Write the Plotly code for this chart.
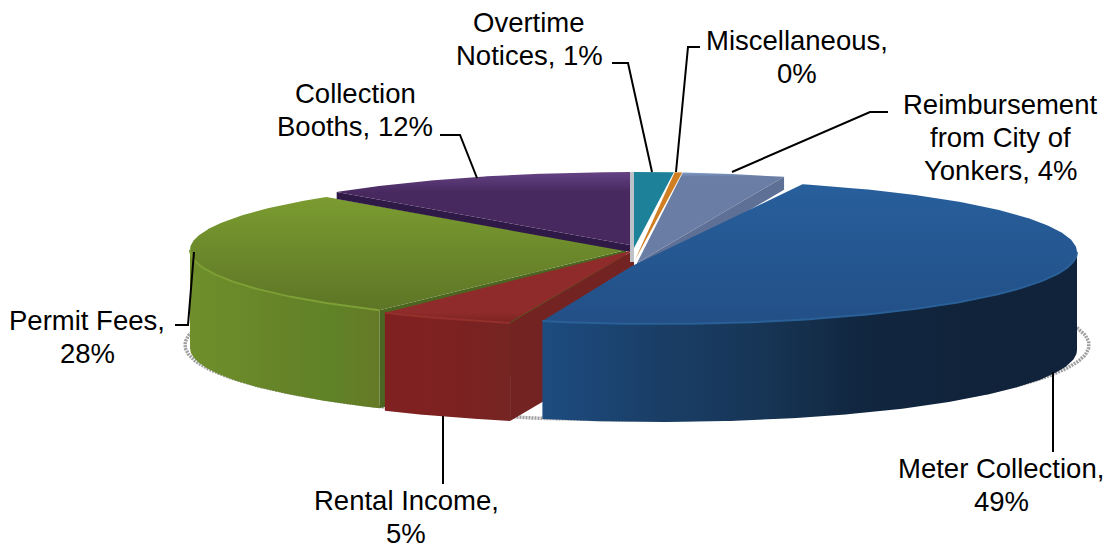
import numpy as np
import plotly.graph_objects as go

# Data: shares as drawn, in clockwise order from twelve o'clock
categories = ["Overtime Notices", "Miscellaneous", "Reimbursement from City of Yonkers",
              "Meter Collection", "Rental Income", "Permit Fees", "Collection Booths"]
values = [1.5, 0.3, 3.75, 49, 5, 28.4, 12]
label_texts = ["Overtime<br>Notices, 1%", "Miscellaneous,<br>0%",
               "Reimbursement<br>from City of<br>Yonkers, 4%", "Meter Collection,<br>49%",
               "Rental Income,<br>5%", "Permit Fees,<br>28%", "Collection<br>Booths, 12%"]

W, H = 1109, 550
DEPTH = 98
PITCH = 33
cum = np.concatenate([[0], np.cumsum(values)]) * 3.6
span = {c: (cum[i], cum[i + 1]) for i, c in enumerate(categories)}

geom = {  # ellipse centre, radii, vertex for each slice
    "Overtime Notices": dict(c=(632, 252), r=(445, 80), v=(634, 248)),
    "Miscellaneous": dict(c=(632, 252), r=(445, 80), v=(635, 260)),
    "Reimbursement from City of Yonkers": dict(c=(632, 252), r=(445, 80), v=(637, 263)),
    "Meter Collection": dict(c=(660, 252), r=(417, 72), v=(632, 266)),
    "Rental Income": dict(c=(635, 250), r=(443, 76), v=(634, 250)),
    "Permit Fees": dict(c=(625, 250), r=(435, 73), v=(626, 250)),
    "Collection Booths": dict(c=(632, 245), r=(430, 73), v=(630, 245)),
}
style = {
    "Overtime Notices": dict(top=["#2a9cb3", "#1d8299"], cut=None, wall=None),
    "Miscellaneous": dict(top=["#ee8212", "#cf7e22"], cut=None, wall=None),
    "Reimbursement from City of Yonkers": dict(top=["#7d9ac6", "#6a7da4"], cut="#5f7096", wall=None),
    "Meter Collection": dict(top=["#275f9c", "#234f86"], cut=None,
                             wall=["#1d4c80", "#1a3f68", "#173657", "#11263f", "#10233b", "#10233b"],
                             rim="#2a6098"),
    "Rental Income": dict(top=["#8f2b2a", "#7a2322"], cut="#732321",
                          wall=["#7e2120", "#7f2120", "#7a2221", "#752523"], rim="#93302c"),
    "Permit Fees": dict(top=["#7b9c30", "#5d7526"], cut="#4b6620",
                        wall=["#6f8f2c", "#6a8a2a", "#668328", "#608227", "#667a26"], rim="#7d9f35"),
    "Collection Booths": dict(top=["#644284", "#48295f"], cut="#2f1a47", wall=None),
}
draw_order = ["Permit Fees", "Collection Booths", "Overtime Notices", "Miscellaneous",
              "Reimbursement from City of Yonkers", "Rental Income", "Meter Collection"]

leaders = [
    ([612, 628, 652], [63, 63, 172]),
    ([700, 688, 676], [47, 47, 172]),
    ([888, 870, 732], [112, 112, 172]),
    ([1053, 1053], [372, 452]),
    ([443, 443], [416, 484]),
    ([175, 188, 194], [325, 325, 252]),
    ([440, 460, 477], [135, 135, 178]),
]
label_pos = [(529, 39), (797, 57), (1000, 137), (1001, 485), (406, 517), (87, 337), (355, 110)]


def arc(g, a0, a1, n=160):
    t = np.radians(np.linspace(a0, a1, n))
    return g["c"][0] + g["r"][0] * np.sin(t), g["c"][1] - g["r"][1] * np.cos(t)


def scale(cols):
    return [[i / (len(cols) - 1), c] for i, c in enumerate(cols)]


fig = go.Figure()


def poly(x, y, colors=None, solid=None, orient="vertical", start=None, stop=None):
    kw = dict(x=list(x), y=list(y), mode="lines", line=dict(width=0), fill="toself",
              hoverinfo="skip", showlegend=False)
    if solid:
        kw["fillcolor"] = solid
    else:
        kw["fillgradient"] = dict(type=orient, colorscale=scale(colors), start=start, stop=stop)
    fig.add_trace(go.Scatter(**kw))


# ground shadow outline
t = np.radians(np.linspace(0, 360, 361))
fig.add_trace(go.Scatter(x=637 + 452 * np.sin(t), y=345 - 75 * np.cos(t), mode="lines",
                         line=dict(color="#a0a0a0", width=3.5, dash="2px,1px"),
                         hoverinfo="skip", showlegend=False))

cut_depth = {"Reimbursement from City of Yonkers": 13, "Collection Booths": 7}

for name in draw_order:
    g, s = geom[name], style[name]
    a0, a1 = span[name]
    ax, ay = arc(g, a0, a1)
    vx, vy = g["v"]
    # cut faces
    if s["cut"]:
        depth = cut_depth.get(name, DEPTH)
        if name in ("Permit Fees", "Rental Income", "Collection Booths"):
            cx, cy = ax[0], ay[0]
        else:
            cx, cy = ax[-1], ay[-1]
        poly([cx, vx, vx, cx, cx], [cy, vy, vy + depth, cy + depth, cy], solid=s["cut"])
    # outer wall on the visible front part
    if s["wall"]:
        b0, b1 = max(a0, 90), min(a1, 270)
        wx, wy = arc(g, b0, b1)
        lo, hi = float(min(wx)), float(max(wx))
        poly(np.r_[wx, wx[::-1]], np.r_[wy, wy[::-1] + DEPTH], colors=s["wall"],
             orient="horizontal", start=lo, stop=hi)
    # top face
    poly(np.r_[vx, ax, vx], np.r_[vy, ay, vy], colors=s["top"], orient="vertical",
         start=float(min(ay)), stop=float(max(ay)))
    if s.get("rim"):
        b0, b1 = max(a0, 90), min(a1, 270)
        wx, wy = arc(g, b0, b1)
        fig.add_trace(go.Scatter(x=wx, y=wy, mode="lines", line=dict(color=s["rim"], width=2),
                                 hoverinfo="skip", showlegend=False))

# pale gap between the last and first slice
fig.add_trace(go.Scatter(x=[632, 632], y=[172, 262], mode="lines",
                         line=dict(color="#bcc2c8", width=4), hoverinfo="skip", showlegend=False))

for lx, ly in leaders:
    fig.add_trace(go.Scatter(x=lx, y=ly, mode="lines", line=dict(color="#000000", width=2),
                             hoverinfo="skip", showlegend=False))

for txt, (px, py) in zip(label_texts, label_pos):
    lines = txt.split("<br>")
    for i, line in enumerate(lines):
        fig.add_annotation(x=px, y=py + (i - (len(lines) - 1) / 2) * PITCH, text=line,
                           showarrow=False, xanchor="center", yanchor="middle", align="center",
                           font=dict(family="Liberation Sans", size=27.5, color="#000000"))

fig.update_layout(
    width=W, height=H, margin=dict(l=0, r=0, t=0, b=0),
    paper_bgcolor="#ffffff", plot_bgcolor="#ffffff",
    xaxis=dict(range=[0, W], visible=False, fixedrange=True),
    yaxis=dict(range=[H, 0], visible=False, fixedrange=True),
)
fig.write_html("out.html", config={"displayModeBar": False},
               post_script="document.body.style.margin='0';document.body.style.overflow='hidden';")
